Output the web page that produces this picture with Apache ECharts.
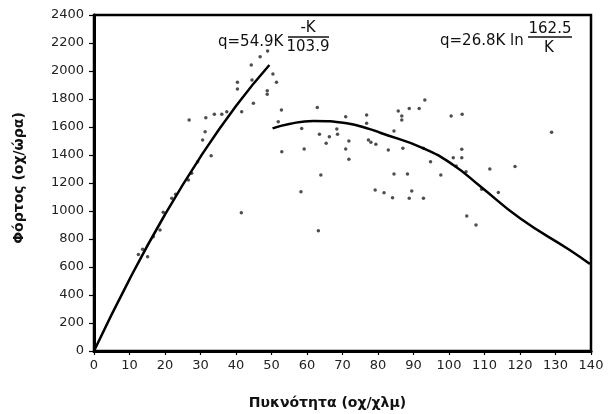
<!DOCTYPE html>
<html>
<head>
<meta charset="utf-8">
<script src="https://cdn.jsdelivr.net/npm/echarts@6/dist/echarts.min.js"></script>
<style>
html,body{margin:0;padding:0;background:#fff;}
#chart{width:609px;height:414px;}
</style>
</head>
<body>
<div id="chart"></div>
<script>
// Observed density (veh/km) and flow (veh/h) pairs
const observedPoints = [
  [48.9,2143],[46.8,2102],[44.3,2043],[50.4,1979],[51.4,1919],[40.4,1919],[40.4,1871],
  [48.8,1859],[48.8,1834],[44.9,1769],[52.8,1721],[26.8,1650],[31.5,1666],[33.9,1691],
  [36.0,1691],[37.4,1709],[41.6,1709],[31.3,1566],[30.6,1507],[33.0,1395],[44.5,1936],
  [21.9,1091],[19.5,991],[13.7,726],[15.1,674],[41.5,988],[29.2,1352],[26.6,1221],
  [18.6,864],[16.7,816],[12.5,690],[23.0,1120],[27.5,1270],
  [62.9,1740],[51.9,1638],[58.5,1590],[70.9,1674],[76.8,1686],[76.8,1626],[68.4,1586],
  [63.5,1548],[66.3,1531],[68.6,1548],[65.4,1484],[71.8,1500],[77.3,1507],[78.0,1491],
  [79.4,1476],[52.9,1424],[59.2,1443],[70.9,1443],[71.8,1369],[63.9,1257],[58.3,1138],
  [79.2,1150],[63.2,859],
  [93.2,1793],[85.7,1714],[88.8,1733],[91.6,1733],[86.7,1679],[86.7,1650],[100.6,1679],
  [103.7,1691],[84.5,1571],[82.9,1436],[87.0,1448],[92.8,1448],[94.8,1352],[103.6,1441],
  [101.2,1381],[103.6,1381],[102.0,1321],[104.8,1281],[84.5,1264],[88.3,1264],[97.7,1257],
  [81.7,1131],[84.1,1095],[89.5,1143],[88.8,1091],[92.8,1091],[105.0,964],[107.6,900],
  [128.9,1562],[111.5,1300],[118.6,1317],[113.9,1133],[109.2,1155]
];
// Uncongested regime curve
const freeFlowCurve = [
  [0,0],[10,512],[20,975],[30,1387],[40,1750],[49.4,2043]
];
// Congested regime curve
const congestedCurve = [
  [50.3,1590],[55,1622],[61.8,1643],[71.2,1626],[77.7,1585],[80.6,1559],[92.8,1448],
  [101.2,1329],[108.7,1179],[120,948],[134,721],[139.7,621]
];
const xTickLabels = ['0','10','20','30','40','50','60','70','80','90','100','110','120','130','140'];
const yTickLabels = ['0','200','400','600','800','1000','1200','1400','1600','1800','2000','2200','2400'];
const xAxisTitle = 'Πυκνότητα (οχ/χλμ)';
const yAxisTitle = 'Φόρτος (οχ/ώρα)';
const eq1Main = 'q=54.9K', eq1Num = '-K', eq1Den = '103.9';
const eq2Main = 'q=26.8K ln', eq2Num = '162.5', eq2Den = 'K';

const chart = echarts.init(document.getElementById('chart'), null, {renderer:'canvas'});
const tickFont = {fontFamily:'DejaVu Sans', fontSize:13, color:'#222'};
const eqFont = {fontFamily:'DejaVu Sans', fontSize:15, fill:'#111'};
chart.setOption({
  animation:false,
  backgroundColor:'#fff',
  grid:{left:94,right:18,top:15,bottom:63,outerBoundsMode:'none',containLabel:false,show:true,borderColor:'#000',borderWidth:2.5,backgroundColor:'transparent'},
  xAxis:{
    type:'value',min:0,max:140,interval:10,
    name:xAxisTitle,nameLocation:'middle',nameGap:45,
    nameTextStyle:{fontFamily:'DejaVu Sans',fontWeight:'bold',fontSize:14,color:'#111',padding:[0,30,0,0]},
    axisLine:{show:true,lineStyle:{color:'#000',width:3}},
    axisTick:{show:true,length:4,lineStyle:{color:'#000',width:1.2}},
    axisLabel:Object.assign({margin:8,formatter:(v)=>xTickLabels[Math.round(v/10)]},tickFont),
    splitLine:{show:false}
  },
  yAxis:{
    type:'value',min:0,max:2400,interval:200,
    name:yAxisTitle,nameLocation:'middle',nameGap:68,nameRotate:90,
    nameTextStyle:{fontFamily:'DejaVu Sans',fontWeight:'bold',fontSize:14,color:'#111',padding:[0,0,0,10]},
    axisLine:{show:true,lineStyle:{color:'#000',width:3}},
    axisTick:{show:true,length:5,lineStyle:{color:'#000',width:1.2}},
    axisLabel:Object.assign({margin:10,formatter:(v)=>yTickLabels[Math.round(v/200)]},tickFont),
    splitLine:{show:false}
  },
  series:[
    {type:'scatter',data:observedPoints,symbol:'circle',symbolSize:3.5,itemStyle:{color:'#222'},z:2},
    {type:'line',data:freeFlowCurve,smooth:true,showSymbol:false,lineStyle:{color:'#000',width:2.5},z:3},
    {type:'line',data:congestedCurve,smooth:true,showSymbol:false,lineStyle:{color:'#000',width:2.5},z:3}
  ],
  graphic:[
    {type:'text',left:218,top:35,style:Object.assign({text:eq1Main},eqFont)},
    {type:'text',x:308,y:28,style:Object.assign({text:eq1Num,align:'center',verticalAlign:'middle'},eqFont)},
    {type:'line',shape:{x1:288,y1:37,x2:329,y2:37},style:{stroke:'#111',lineWidth:1.3}},
    {type:'text',x:308,y:47,style:Object.assign({text:eq1Den,align:'center',verticalAlign:'middle'},eqFont)},
    {type:'text',left:440,top:34,style:Object.assign({text:eq2Main},eqFont)},
    {type:'text',x:550,y:29,style:Object.assign({text:eq2Num,align:'center',verticalAlign:'middle'},eqFont)},
    {type:'line',shape:{x1:528,y1:37,x2:572,y2:37},style:{stroke:'#111',lineWidth:1.3}},
    {type:'text',x:549,y:48,style:Object.assign({text:eq2Den,align:'center',verticalAlign:'middle'},eqFont)}
  ]
});
</script>
</body>
</html>
